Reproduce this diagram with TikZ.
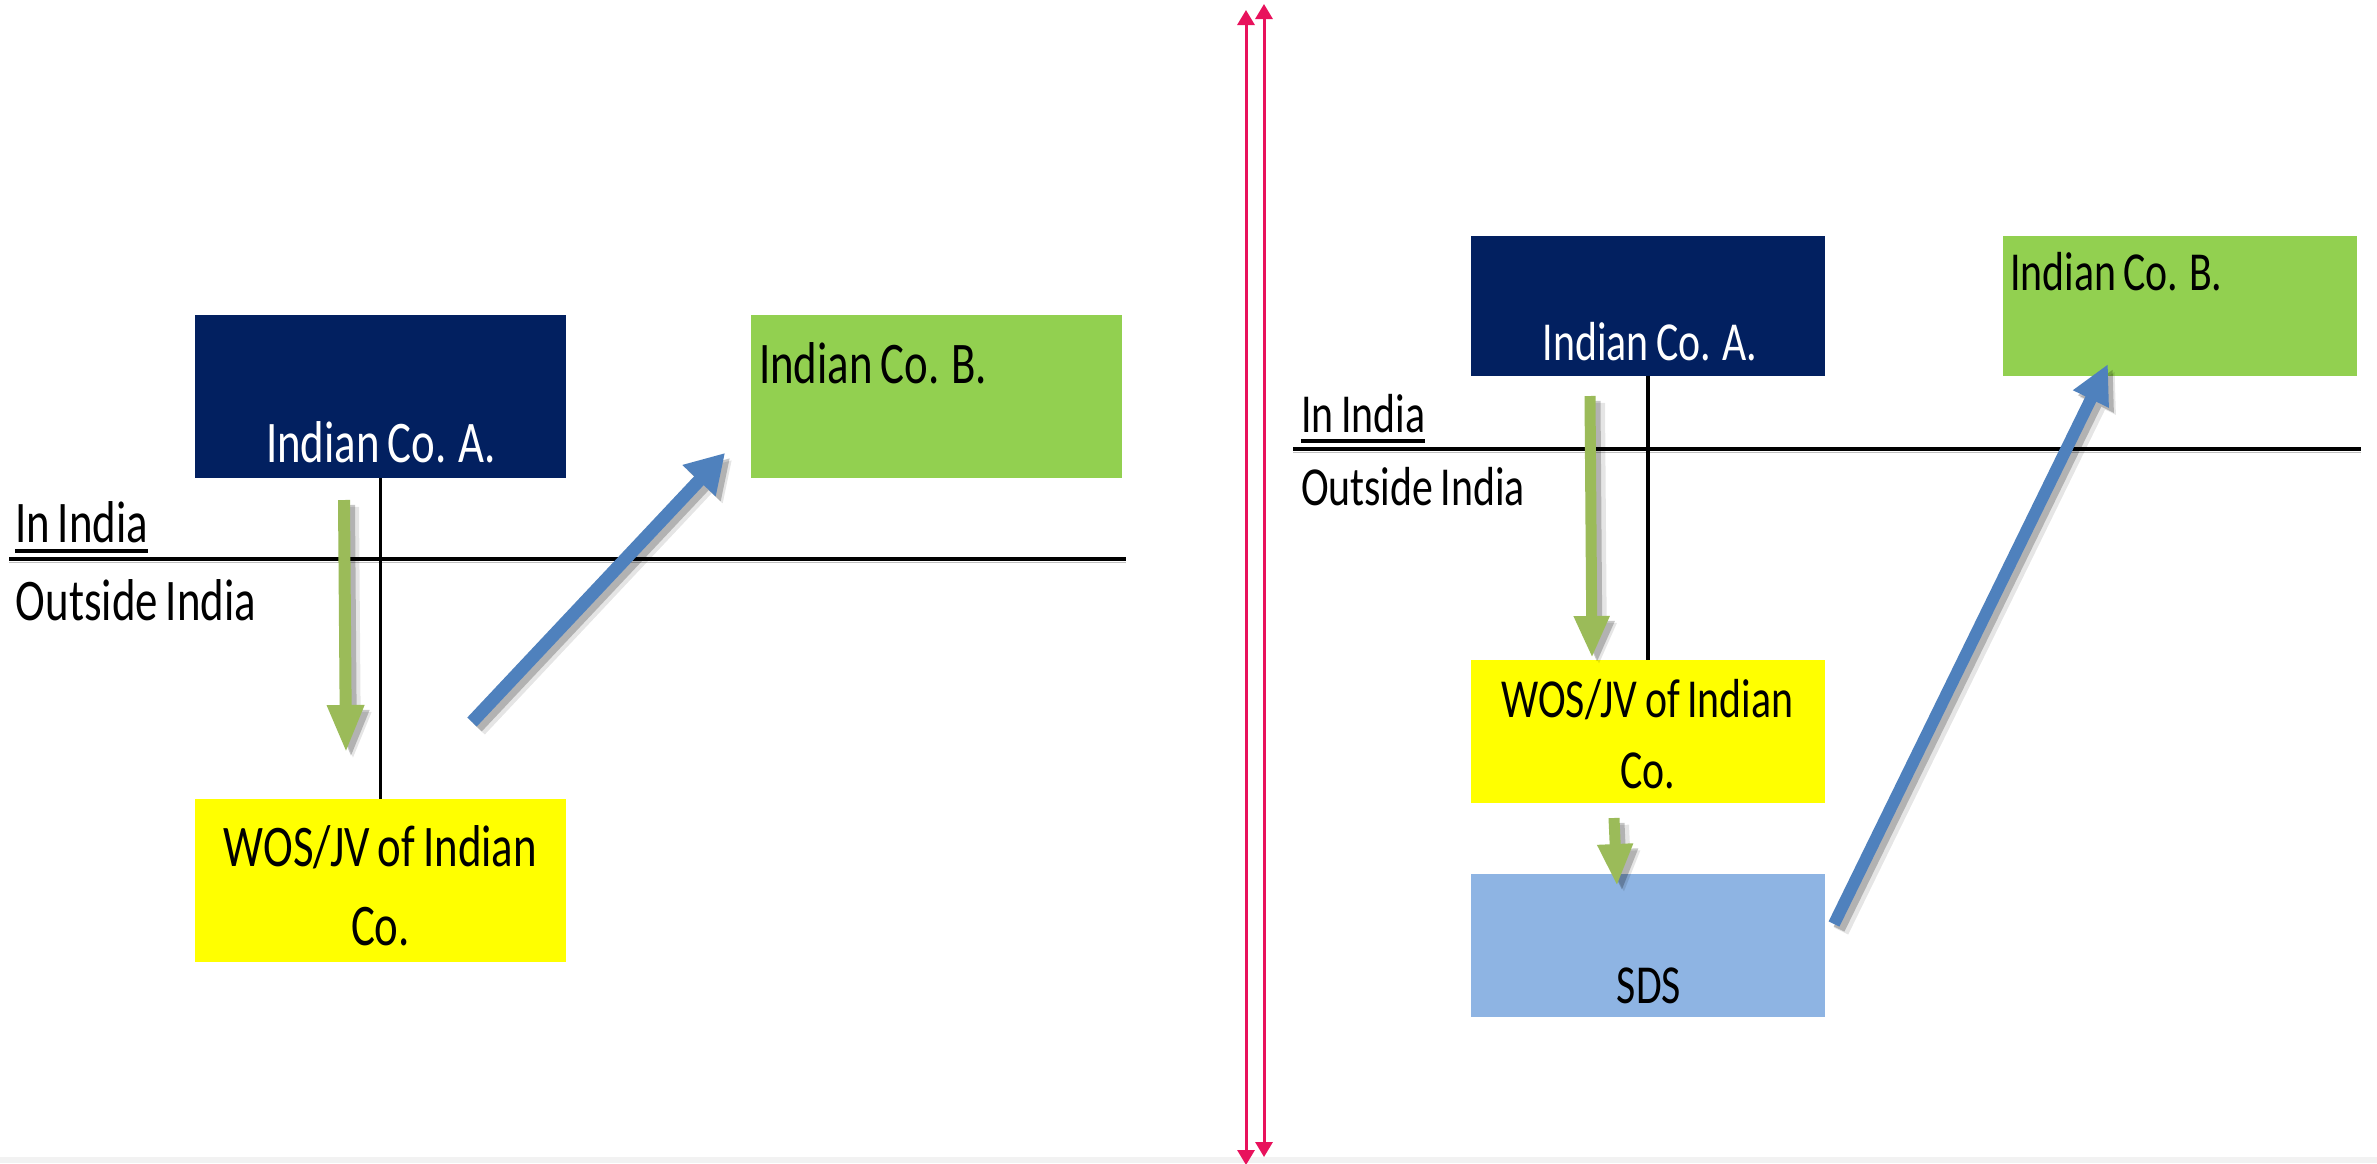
\documentclass[tikz,border=0pt]{standalone}
\usepackage{fontspec}
\setmainfont[FakeStretch=0.76, WordSpace=0.8]{Carlito}
\usetikzlibrary{arrows.meta}

\definecolor{navyA}{RGB}{2,32,96}
\definecolor{greenB}{RGB}{146,208,80}
\definecolor{sdsblue}{RGB}{142,180,227}
\definecolor{arrowgreen}{RGB}{155,187,89}
\definecolor{arrowblue}{RGB}{79,129,189}
\definecolor{crimson}{RGB}{232,18,92}
\definecolor{boxyellow}{RGB}{255,255,0}

% block arrow with a soft drop shadow: #1 style, #2 start, #3 end
\newcommand\shadowedarrow[3]{%
  \begin{scope}[transparency group, opacity=0.10, transform canvas={shift={(3.5pt,-3.5pt)}}]
    \draw[#1, draw=black, line width=8pt] (#2) -- (#3);
  \end{scope}
  \begin{scope}[transparency group, opacity=0.22, transform canvas={shift={(2.5pt,-2.5pt)}}]
    \draw[#1, draw=black] (#2) -- (#3);
  \end{scope}
  \draw[#1] (#2) -- (#3);%
}

\begin{document}
\begin{tikzpicture}[x=0.5pt, y=-0.5pt,
  boxL/.style={rectangle, inner sep=0pt, outer sep=0pt, minimum width=185.5pt, minimum height=81.5pt},
  boxR/.style={rectangle, inner sep=0pt, outer sep=0pt, minimum width=177pt, minimum height=70pt},
  txtL/.style={inner sep=0pt, outer sep=0pt, font=\fontsize{29.5pt}{39.5pt}\selectfont},
  txtR/.style={inner sep=0pt, outer sep=0pt, font=\fontsize{27.5pt}{35.5pt}\selectfont},
  divline/.style={draw=black, line width=1.6pt},
  borderline/.style={draw=black, line width=2pt},
  ulineL/.style={draw=black, line width=2pt},
  greenL/.style={draw=arrowgreen, fill=arrowgreen, line width=6pt, -{Triangle[width=17pt, length=24pt]}},
  greenR/.style={draw=arrowgreen, fill=arrowgreen, line width=5.5pt, -{Triangle[width=16.5pt, length=21pt]}},
  blueL/.style={draw=arrowblue, fill=arrowblue, line width=6.5pt, -{Triangle[width=21.5pt, length=19pt]}},
  blueR/.style={draw=arrowblue, fill=arrowblue, line width=6pt, -{Triangle[width=18.5pt, length=19.5pt]}},
  redarrow/.style={draw=crimson, fill=crimson, line width=1.5pt,
    {Triangle[width=8.5pt, length=7.5pt]}-{Triangle[width=8.5pt, length=7.5pt]}},
]
\useasboundingbox (0,0) rectangle (2377,1163);
\fill[white] (0,0) rectangle (2377,1163);
\fill[black!5] (0,1157) rectangle (2377,1163);

% ---------------- left scheme ----------------
\node[boxL, fill=navyA]     (aL) at (380.5,396.5) {};
\node[boxL, fill=greenB]    (bL) at (936.5,396.5) {};
\node[boxL, fill=boxyellow] (wL) at (380.5,880.5) {};

\node[txtL, text=white, anchor=base] (taL) at (381,462) {Indian Co. A.};
\node[txtL, anchor=base west] (tbL) at (759,383) {Indian Co. B.};
\node[txtL, align=center, anchor=base] (twL) at (380.5,945) {WOS/JV of Indian\\Co.};

\coordinate (hL1) at (9,559);
\coordinate (hL2) at (1126,559);
\draw[black!25, line width=0.8pt] ([yshift=-1.8pt]hL1) -- ([yshift=-1.8pt]hL2);
\draw[borderline] (hL1) -- (hL2);
\draw[divline] (aL.south) -- (wL.north);

\node[txtL, anchor=base west] (inL) at (15,542) {In India};
\draw[ulineL] ([yshift=-4.5pt]inL.base west) -- ([yshift=-4.5pt]inL.base east);
\node[txtL, anchor=base west] (outL) at (16,620) {Outside India};

\coordinate (gL1) at (344,500);
\coordinate (gL2) at (346,753);
\shadowedarrow{greenL}{gL1}{gL2}
\coordinate (bL1) at (472,722);
\coordinate (bL2) at (725,453);
\shadowedarrow{blueL}{bL1}{bL2}

% ---------------- separator ----------------
\coordinate (r1t) at (1246,10);
\coordinate (r1b) at (1246,1165);
\coordinate (r2t) at (1264,4);
\coordinate (r2b) at (1264,1157);
\draw[redarrow] (r1t) -- (r1b);
\draw[redarrow] (r2t) -- (r2b);

% ---------------- right scheme ----------------
\node[boxR, fill=navyA]   (aR) at (1648,305.5) {};
\node[boxR, fill=greenB]  (bR) at (2180,305.5) {};
\node[boxR, minimum height=71.5pt, fill=boxyellow] (wR) at (1648,731.5) {};
\node[boxR, minimum height=71.5pt, fill=sdsblue]   (sR) at (1648,945.5) {};

\node[txtR, text=white, anchor=base] (taR) at (1650,360) {Indian Co. A.};
\node[txtR, anchor=base west] (tbR) at (2010,290) {Indian Co. B.};
\node[txtR, align=center, anchor=base] (twR) at (1647.5,788) {WOS/JV of Indian\\Co.};
\node[txtR, anchor=base] (tsR) at (1649,1003) {SDS};

\coordinate (hR1) at (1293,449);
\coordinate (hR2) at (2361,449);
\draw[black!25, line width=0.8pt] ([yshift=-1.8pt]hR1) -- ([yshift=-1.8pt]hR2);
\draw[borderline] (hR1) -- (hR2);
\draw[divline] (aR.south) -- (wR.north);

\node[txtR, anchor=base west] (inR) at (1301,432) {In India};
\draw[ulineL] ([yshift=-4.5pt]inR.base west) -- ([yshift=-4.5pt]inR.base east);
\node[txtR, anchor=base west] (outR) at (1301,505) {Outside India};

\coordinate (gR1) at (1590,396);
\coordinate (gR2) at (1592,658);
\shadowedarrow{greenR}{gR1}{gR2}
\coordinate (gS1) at (1614,818);
\coordinate (gS2) at (1617,886);
\shadowedarrow{greenR}{gS1}{gS2}
\coordinate (bR1) at (1834,924);
\coordinate (bR2) at (2108,364);
\shadowedarrow{blueR}{bR1}{bR2}
\end{tikzpicture}
\end{document}
